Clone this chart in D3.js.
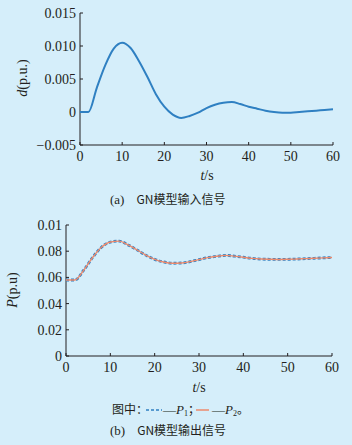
<!DOCTYPE html>
<html>
<head>
<meta charset="utf-8">
<script src="https://cdn.jsdelivr.net/npm/d3@7"></script>
<style>
  html, body { margin: 0; padding: 0; background: #d5eefa; }
  svg { display: block; }
</style>
</head>
<body>
<svg id="vis-svg"></svg>
<script>
// time axis (s)
const tVals = [0, 2, 4, 6, 8, 10, 12, 14, 16, 18, 20, 22, 24, 26, 28, 30, 32, 34, 36, 38, 40, 42, 44, 46, 48, 50, 52, 54, 56, 58, 60];
// input signal d (p.u.)
const dVals = [0, 0, 0.0037, 0.0071, 0.0096, 0.0105, 0.0097, 0.0077, 0.0053, 0.0027, 0.0008, -0.0004, -0.0009, -0.0006, -0.0001, 0.0006, 0.0011, 0.0014, 0.0015, 0.0012, 0.0008, 0.0005, 0.0002, 0.0000, -0.0001, -0.0001, 0.0000, 0.0001, 0.0002, 0.0003, 0.0004];
// output signals P1, P2 (p.u.)
const p1Vals = [0.058, 0.058, 0.0655, 0.0752, 0.0830, 0.0870, 0.0877, 0.0848, 0.0810, 0.0770, 0.0738, 0.0718, 0.0708, 0.0710, 0.0720, 0.0736, 0.0751, 0.0761, 0.0768, 0.0762, 0.0754, 0.0745, 0.0740, 0.0738, 0.0737, 0.0738, 0.0740, 0.0743, 0.0746, 0.0749, 0.0752];
const p2Vals = [0.058, 0.058, 0.0655, 0.0752, 0.0830, 0.0870, 0.0877, 0.0848, 0.0810, 0.0770, 0.0738, 0.0718, 0.0708, 0.0710, 0.0720, 0.0736, 0.0751, 0.0761, 0.0768, 0.0762, 0.0754, 0.0745, 0.0740, 0.0738, 0.0737, 0.0738, 0.0740, 0.0743, 0.0746, 0.0749, 0.0752];

const xTicks = [0, 10, 20, 30, 40, 50, 60];
const yTicksA = [0.015, 0.010, 0.005, 0, -0.005];
const yLabelsA = ["0.015", "0.010", "0.005", "0", "\u22120.005"];
const yTicksB = [0.10, 0.08, 0.06, 0.04, 0.02, 0];
const yLabelsB = ["0.01", "0.08", "0.06", "0.04", "0.02", "0"];

const width = 352, height = 445;
const blue = "#2f80c2", orange = "#ec8a6d", ink = "#231f20";
const serif = "'Liberation Serif', 'Times New Roman', 'DejaVu Serif', serif";
const cjk = "'Noto Sans CJK SC', sans-serif";

const svg = d3.select("#vis-svg").attr("width", width).attr("height", height)
  .attr("font-family", serif).attr("fill", ink);

function drawAxes(g, x, y, yTicks, yLabels) {
  const [x0, x1] = x.range();
  const [yb, yt] = y.range();
  g.append("line").attr("x1", x0).attr("x2", x0).attr("y1", yb).attr("y2", yt)
    .attr("stroke", ink).attr("stroke-width", 1);
  g.append("line").attr("x1", x0).attr("x2", x1).attr("y1", yb).attr("y2", yb)
    .attr("stroke", ink).attr("stroke-width", 1);
  // y ticks (inward)
  yTicks.forEach((v, i) => {
    g.append("line").attr("x1", x0).attr("x2", x0 + 3).attr("y1", y(v)).attr("y2", y(v))
      .attr("stroke", ink);
    g.append("text").attr("x", x0 - 4).attr("y", y(v)).attr("dy", "0.35em")
      .attr("text-anchor", "end").attr("font-size", 14).text(yLabels[i]);
  });
  // x ticks (inward)
  xTicks.forEach(v => {
    g.append("line").attr("x1", x(v)).attr("x2", x(v)).attr("y1", yb).attr("y2", yb - 3)
      .attr("stroke", ink);
    g.append("text").attr("x", x(v)).attr("y", yb + 16)
      .attr("text-anchor", "middle").attr("font-size", 14).text(v);
  });
}

// ---- chart (a) ----
const xa = d3.scaleLinear().domain([0, 60]).range([80, 333]);
const ya = d3.scaleLinear().domain([-0.005, 0.015]).range([145, 13]);
const ga = svg.append("g");
drawAxes(ga, xa, ya, yTicksA, yLabelsA);

const lineA = d3.line().x((d, i) => xa(tVals[i])).y(d => ya(d)).curve(d3.curveMonotoneX);
ga.append("path").datum(dVals).attr("d", lineA)
  .attr("fill", "none").attr("stroke", blue).attr("stroke-width", 2);

ga.append("text").attr("transform", "translate(27,78) rotate(-90)")
  .attr("text-anchor", "middle").attr("font-size", 14)
  .html('<tspan font-style="italic">d</tspan>(p.u.)');
ga.append("text").attr("x", 207).attr("y", 180).attr("text-anchor", "middle")
  .attr("font-size", 14)
  .html('<tspan font-style="italic">t</tspan>/s');
ga.append("text").attr("x", 110).attr("y", 204).attr("font-size", 13)
  .html(`(a)<tspan font-family="${cjk}" font-size="12" dx="12">GN模型输入信号</tspan>`);

// ---- chart (b) ----
const xb = d3.scaleLinear().domain([0, 60]).range([66, 332]);
const yb = d3.scaleLinear().domain([0, 0.10]).range([356, 225]);
const gb = svg.append("g");
drawAxes(gb, xb, yb, yTicksB, yLabelsB);

const lineB = d3.line().x((d, i) => xb(tVals[i])).y(d => yb(d)).curve(d3.curveMonotoneX);
gb.append("path").datum(p1Vals).attr("d", lineB)
  .attr("fill", "none").attr("stroke", blue).attr("stroke-width", 2.8)
  .attr("stroke-dasharray", "3,2");
gb.append("path").datum(p2Vals).attr("d", lineB)
  .attr("fill", "none").attr("stroke", orange).attr("stroke-width", 1.4);

gb.append("text").attr("transform", "translate(17,290) rotate(-90)")
  .attr("text-anchor", "middle").attr("font-size", 14)
  .html('<tspan font-style="italic">P</tspan>(p.u)');
gb.append("text").attr("x", 199).attr("y", 392).attr("text-anchor", "middle")
  .attr("font-size", 14)
  .html('<tspan font-style="italic">t</tspan>/s');

// legend
const lg = gb.append("g");
lg.append("text").attr("font-family", cjk).attr("x", 112).attr("y", 414).attr("font-size", 12).text("图中：");
lg.append("line").attr("x1", 146).attr("x2", 162).attr("y1", 410).attr("y2", 410)
  .attr("stroke", blue).attr("stroke-width", 1.5).attr("stroke-dasharray", "3,2");
lg.append("text").attr("x", 163).attr("y", 414).attr("font-size", 13)
  .html(`—<tspan font-style="italic">P</tspan><tspan font-size="8" dy="2">1</tspan><tspan font-family="${cjk}" font-size="12" dy="-2">；</tspan>`);
lg.append("line").attr("x1", 196).attr("x2", 209).attr("y1", 410).attr("y2", 410)
  .attr("stroke", orange).attr("stroke-width", 1.5);
lg.append("text").attr("x", 212).attr("y", 414).attr("font-size", 13)
  .html(`—<tspan font-style="italic">P</tspan><tspan font-size="8" dy="2">2</tspan><tspan font-family="${cjk}" font-size="12" dy="-2">。</tspan>`);

gb.append("text").attr("x", 110).attr("y", 435).attr("font-size", 13)
  .html(`(b)<tspan font-family="${cjk}" font-size="12" dx="12">GN模型输出信号</tspan>`);
</script>
</body>
</html>
